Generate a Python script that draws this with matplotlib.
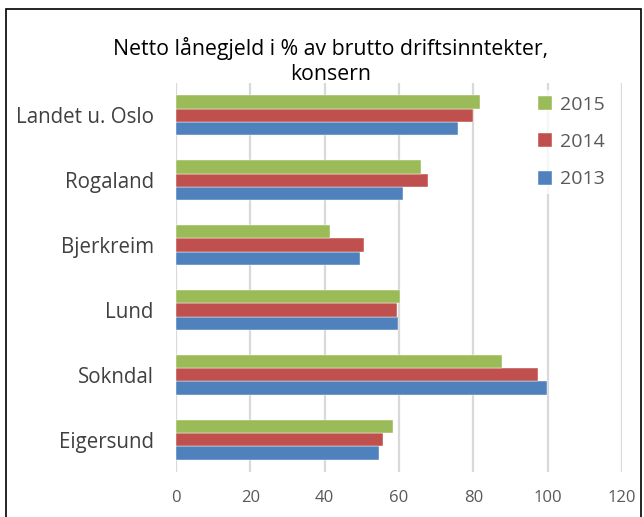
import matplotlib.pyplot as plt
import matplotlib.patches as mpatches
import numpy as np

plt.rcParams['font.family'] = ['Open Sans', 'DejaVu Sans']

categories = ['Eigersund', 'Sokndal', 'Lund', 'Bjerkreim', 'Rogaland', 'Landet u. Oslo']
years = ['2013', '2014', '2015']
v2013 = [54.5, 99.9, 59.6, 49.5, 61.2, 75.9]
v2014 = [55.8, 97.4, 59.4, 50.7, 67.8, 80.0]
v2015 = [58.5, 87.7, 60.3, 41.5, 65.9, 81.8]
colors = ['#4f81bd', '#c0504d', '#9bbb59']
ticks = [0, 20, 40, 60, 80, 100, 120]

fig = plt.figure(figsize=(6.44, 5.17), dpi=100)
ax = fig.add_axes([176 / 644, 45 / 517, 446 / 644, 389 / 517])

y = np.arange(len(categories))
h = 0.205
series = [v2013, v2014, v2015]
bars = []
for i, vals in enumerate(series):
    b = ax.barh(y + (i - 1) * h, vals, height=h, color=colors[i], zorder=3,
                edgecolor='white', linewidth=0.3)
    bars.append(b)

ax.set_xlim(0, 120)
ax.set_ylim(-0.5, 5.5)
ax.set_xticks(ticks)
ax.set_yticks(y)
ax.set_yticklabels(categories, fontsize=14.8, color='#404040')
ax.tick_params(axis='y', length=0, pad=16)
ax.tick_params(axis='x', length=0, pad=13, labelsize=12, labelcolor='#595959')
ax.grid(axis='x', color='#d9d9d9', linewidth=1.6, zorder=0)
for s in ax.spines.values():
    s.set_visible(False)

fig.text(331 / 644, 1 - 48 / 517, 'Netto lånegjeld i % av brutto driftsinntekter,',
         ha='center', va='center', fontsize=15.3)
fig.text(331 / 644, 1 - 75 / 517, 'konsern', ha='center', va='center', fontsize=15.3)

leg = ax.legend(bars[::-1], years[::-1], loc='upper left',
                bbox_to_anchor=(522 / 644, 1 - 80 / 517), bbox_transform=fig.transFigure,
                fontsize=14, frameon=True, edgecolor='none', fancybox=False,
                handlelength=0.75, handleheight=0.75, handletextpad=0.4, labelspacing=1.0,
                borderpad=0.3)
leg.get_frame().set_facecolor('white')
for t in leg.get_texts():
    t.set_color('#595959')

border = mpatches.Rectangle((6 / 644, -0.05), 635 / 644, 1 - 9 / 517 + 0.05,
                            transform=fig.transFigure, fill=False, edgecolor='black',
                            linewidth=1.2)
fig.patches.append(border)

fig.savefig('out.png', dpi=100)
